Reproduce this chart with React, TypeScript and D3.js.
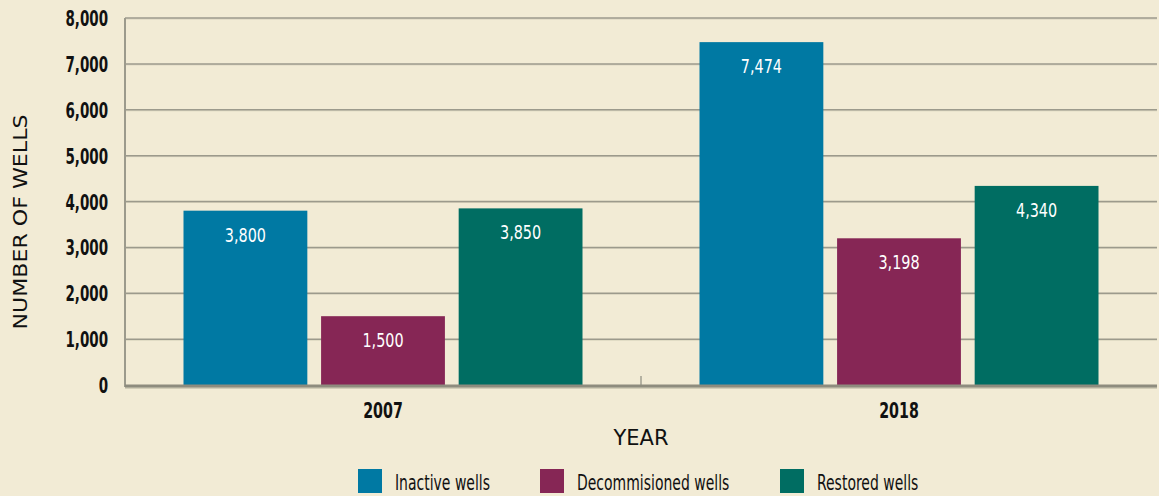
import * as d3 from 'd3';

const years = ['2007', '2018'];
const seriesNames = ['Inactive wells', 'Decommisioned wells', 'Restored wells'];
const seriesColors = ['#0079a3', '#862655', '#006d62'];
const inactive = [3800, 7474];
const decommissioned = [1500, 3198];
const restored = [3850, 4340];
const yTicks = [0, 1000, 2000, 3000, 4000, 5000, 6000, 7000, 8000];

const W = 1159;
const H = 496;
const left = 125;
const right = 1157;
const top = 18;
const bottom = 385;
const cond = '"DejaVu Sans Condensed", "DejaVu Sans", sans-serif';
const wide = '"DejaVu Sans", sans-serif';

// condensed text: squeeze horizontally to mimic the narrow face of the original
function CText({
  x,
  y,
  sx,
  size,
  anchor = 'start',
  weight = 'normal',
  fill = '#111',
  children,
}: {
  x: number;
  y: number;
  sx: number;
  size: number;
  anchor?: string;
  weight?: string;
  fill?: string;
  children: any;
}) {
  return (
    <text
      transform={`translate(${x},${y}) scale(${sx},1)`}
      textAnchor={anchor}
      fontFamily={cond}
      fontWeight={weight}
      fontSize={size}
      fill={fill}
    >
      {children}
    </text>
  );
}

export default function App() {
  const values = [inactive, decommissioned, restored];
  const x = d3.scaleBand<string>().domain(years).range([left, right]);
  const groupW = 399;
  const inner = d3
    .scaleBand<string>()
    .domain(seriesNames)
    .range([0, groupW])
    .paddingInner(0.1);
  const y = d3.scaleLinear().domain([0, 8000]).range([bottom, top]);
  const fmt = d3.format(',');
  const legendX = [358, 540, 780];

  return (
    <svg
      width={W}
      height={H}
      style={{ position: 'fixed', left: 0, top: 0, background: '#f2ebd5' }}
    >
      <rect x={0} y={0} width={W} height={H} fill="#f2ebd5" />
      {yTicks.slice(1).map((t) => (
        <g key={t}>
          <line x1={left} x2={right} y1={y(t) + 1} y2={y(t) + 1} stroke="#d8d2bd" strokeWidth={1} />
          <line x1={left} x2={right} y1={y(t)} y2={y(t)} stroke="#9c9a8c" strokeWidth={1.5} />
        </g>
      ))}
      {yTicks.map((t) => (
        <CText key={t} x={108} y={y(t) + 8} sx={0.68} size={22} anchor="end" weight="bold">
          {fmt(t)}
        </CText>
      ))}
      <line x1={left} x2={left} y1={top} y2={bottom + 2} stroke="#9c9a8c" strokeWidth={2} />
      <line
        x1={x(years[1]) as number}
        x2={x(years[1]) as number}
        y1={bottom - 9}
        y2={bottom}
        stroke="#b5b2a2"
        strokeWidth={2}
      />
      {years.map((yr, i) => {
        const gx = (x(yr) as number) + (x.bandwidth() - groupW) / 2;
        return (
          <g key={yr}>
            {seriesNames.map((s, j) => {
              const v = values[j][i];
              const bx = gx + (inner(s) as number);
              return (
                <g key={s}>
                  <rect
                    x={bx}
                    y={y(v)}
                    width={inner.bandwidth()}
                    height={bottom - y(v)}
                    fill={seriesColors[j]}
                  />
                  <CText
                    x={bx + inner.bandwidth() / 2}
                    y={y(v) + 31}
                    sx={0.8}
                    size={20}
                    anchor="middle"
                    fill="#fff"
                  >
                    {fmt(v)}
                  </CText>
                </g>
              );
            })}
            <CText
              x={(x(yr) as number) + x.bandwidth() / 2}
              y={418}
              sx={0.72}
              size={22}
              anchor="middle"
              weight="bold"
            >
              {yr}
            </CText>
          </g>
        );
      })}
      <line x1={left} x2={right} y1={bottom + 3} y2={bottom + 3} stroke="#c9c4ae" strokeWidth={1.5} />
      <line x1={left} x2={right} y1={bottom + 1} y2={bottom + 1} stroke="#8e8c7e" strokeWidth={3} />
      <text
        x={(left + right) / 2}
        y={445}
        textAnchor="middle"
        fontFamily={wide}
        fontSize={21}
        fill="#111"
      >
        YEAR
      </text>
      <text
        transform={`translate(27, ${222}) rotate(-90)`}
        textAnchor="middle"
        fontFamily={wide}
        fontSize={19}
        textLength={215}
        lengthAdjust="spacingAndGlyphs"
        fill="#111"
      >
        NUMBER OF WELLS
      </text>
      {seriesNames.map((s, j) => (
        <g key={s}>
          <rect x={legendX[j]} y={469} width={24} height={24} fill={seriesColors[j]} />
          <CText x={legendX[j] + 37} y={490} sx={0.74} size={21}>
            {s}
          </CText>
        </g>
      ))}
    </svg>
  );
}
